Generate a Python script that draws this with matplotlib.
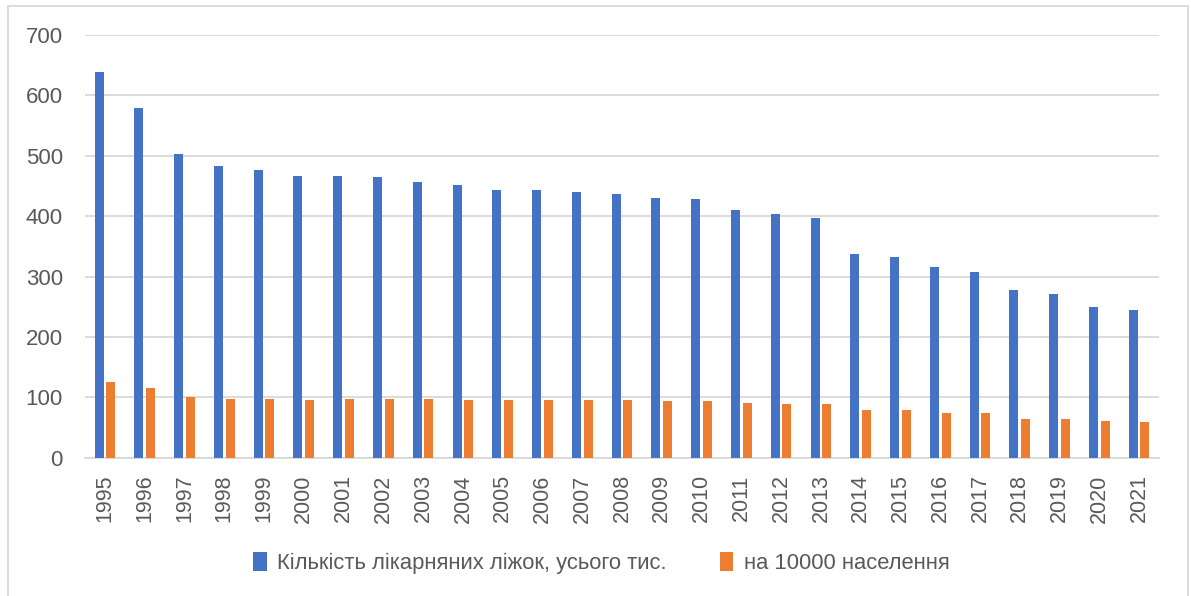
import matplotlib.pyplot as plt
from matplotlib.patches import Rectangle
import numpy as np

plt.rcParams['font.family'] = ['Liberation Sans', 'DejaVu Sans']

# роки та показники
years = [str(y) for y in range(1995, 2022)]
beds_total = [639, 579, 503, 483, 476, 466, 466, 465, 457, 451, 444, 443, 440, 437,
              430, 428, 411, 404, 397, 337, 332, 316, 308, 277, 271, 250, 244]
beds_per_10k = [125.5, 115, 100, 96.7, 96.7, 96.1, 96.7, 97.8, 96.7, 96.1, 96.1, 96, 96, 95.6,
                94.4, 94.4, 90.6, 89.4, 88.3, 78.9, 78.9, 74.4, 73.3, 64.4, 64.4, 60.6, 59.4]
series_names = ['Кількість лікарняних ліжок, усього тис.', 'на 10000 населення']

fig = plt.figure(figsize=(11.91, 5.96), dpi=100)
ax = fig.add_axes([85 / 1191, 1 - 457.7 / 596, (1159 - 85) / 1191, (457.7 - 35) / 596])

x = np.arange(len(years))
w = 0.225
ax.bar(x - 0.147, beds_total, w, color='#4472C4', label=series_names[0], zorder=3)
ax.bar(x + 0.147, beds_per_10k, w, color='#ED7D31', label=series_names[1], zorder=3)

ax.set_xlim(-0.5, len(years) - 0.5)
ax.set_ylim(0, 700)
ax.set_yticks(range(0, 701, 100))
ax.set_xticks(x)
ax.set_xticklabels(years, rotation=90)
ax.grid(axis='y', color='#d9d9d9', lw=1.3, zorder=0)
ax.tick_params(axis='y', length=0, pad=16, labelsize=16, labelcolor='#595959')
ax.tick_params(axis='x', length=0, pad=12, labelsize=15.5, labelcolor='#595959')
for s in ['top', 'right', 'left']:
    ax.spines[s].set_visible(False)
ax.spines['bottom'].set_color('#d9d9d9')
ax.spines['bottom'].set_linewidth(1.3)

fig.legend(loc='center', bbox_to_anchor=(0.505, 1 - 563 / 596), ncol=2, frameon=False,
           fontsize=15.8, labelcolor='#595959', handlelength=0.6, handleheight=1.0,
           handletextpad=0.5, columnspacing=2.4)

# рамка навколо діаграми
fig.patches.append(Rectangle((8 / 1191, -0.05), 1180 / 1191, 1.05 - 6 / 596,
                             transform=fig.transFigure, fill=False,
                             edgecolor='#d9d9d9', lw=1.3))

fig.savefig('out.png', dpi=100)
